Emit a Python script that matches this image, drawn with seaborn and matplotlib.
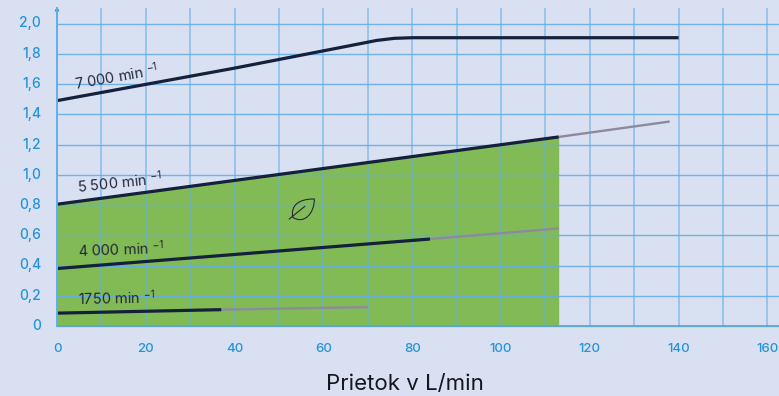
import matplotlib
matplotlib.use("Agg")
import matplotlib.pyplot as plt
import numpy as np
import pandas as pd
import seaborn as sns
from matplotlib.path import Path
from matplotlib.patches import PathPatch
from matplotlib.transforms import ScaledTranslation

BG = "#d8e0f1"; GRID = "#62aee6"; TICK = "#2493d8"; GREEN = "#82bb55"
DARK = "#14203c"; GRAY = "#8d8a9e"; TEXT = "#23283a"

sns.set_theme(style="white")
plt.rcParams["font.family"] = ["Inter", "DejaVu Sans"]
plt.rcParams["mathtext.default"] = "regular"

x_ticks = [0, 20, 40, 60, 80, 100, 120, 140, 160]
y_ticks = [0, .2, .4, .6, .8, 1.0, 1.2, 1.4, 1.6, 1.8, 2.0]
y_labels = ["0", "0,2", "0,4", "0,6", "0,8", "1,0", "1,2", "1,4", "1,6", "1,8", "2,0"]

q7000 = [0, 40, 68, 72, 76, 80, 140]
h7000 = [1.49, 1.705, 1.865, 1.888, 1.902, 1.906, 1.906]
q5500 = [0, 113]
h5500 = [.805, 1.25]
q5500_ext = [113, 138]
h5500_ext = [1.25, 1.352]
q4000 = [0, 84]
h4000 = [.38, .575]
q4000_ext = [84, 113]
h4000_ext = [.575, .645]
q1750 = [0, 37]
h1750 = [.085, .108]
q1750_ext = [37, 70]
h1750_ext = [.108, .125]
labels = ["7 000 min", "5 500 min", "4 000 min", "1750 min"]
label_q = [4.3, 4.7, 4.7, 4.7]
label_h = [1.56, .88, .456, .139]
label_rot = [10, 6, 2, 1]

W, H = 779, 396
fig = plt.figure(figsize=(W / 100, H / 100), dpi=100, facecolor=BG)
ax = fig.add_axes([57 / W, (H - 326) / H, (W - 57) / W, (326 - 8) / H], facecolor=BG)

# green operating area below the 5500 curve
qs = np.array(q5500, dtype=float)
ax.fill_between(qs, 0, h5500, color=GREEN, lw=0, zorder=1)

# grid
for v in np.arange(10, 170, 10):
    ax.axvline(v, color=GRID, lw=1.25, alpha=.6, zorder=2)
for v in y_ticks:
    ax.plot([0, 1], [v, v], transform=ax.get_yaxis_transform(), color=GRID, lw=1.0,
            alpha=.9, zorder=2, clip_on=False)

for q, h in [(q5500_ext, h5500_ext), (q4000_ext, h4000_ext), (q1750_ext, h1750_ext)]:
    sns.lineplot(x=q, y=h, ax=ax, color=GRAY, lw=1.7, zorder=3, solid_capstyle="butt", errorbar=None)
for q, h in [(q7000, h7000), (q5500, h5500), (q4000, h4000), (q1750, h1750)]:
    sns.lineplot(x=q, y=h, ax=ax, color=DARK, lw=2.3, zorder=4, solid_capstyle="butt",
                 errorbar=None, sort=False)

ax.set_xlim(0, (W - 57) / 4.44)
ax.set_ylim(0, (326 - 8) / 151.25)

ax.set_xticks(x_ticks)
ax.set_xticklabels([str(t) for t in x_ticks], color=TICK, fontsize=9.5, fontweight="medium")
ax.set_yticks(y_ticks)
ax.set_yticklabels(y_labels, color=TICK, fontsize=10, fontweight="medium")
ax.tick_params(axis="both", length=0)
ax.tick_params(axis="x", pad=12.5)
ax.tick_params(axis="y", pad=11.5)
shift_up = ScaledTranslation(0, 1.5 / 100, fig.dpi_scale_trans)
for t in ax.get_yticklabels():
    t.set_transform(t.get_transform() + shift_up)
for t in ax.get_xticklabels():
    t.set_clip_on(False)
for s in ["top", "right", "bottom"]:
    ax.spines[s].set_visible(False)
ax.spines["left"].set_color(GRID)
ax.spines["left"].set_linewidth(1.4)
ax.spines["left"].set_zorder(5)
ax.plot([0, 1], [0, 0], transform=ax.get_yaxis_transform(), color="#5aa7c8", lw=1.2, zorder=2,
        clip_on=False)
ax.annotate("", xy=(0, 1.005), xycoords="axes fraction", xytext=(0, .97),
            arrowprops=dict(arrowstyle="-|>", color=TICK, lw=0.8, mutation_scale=6, shrinkA=0, shrinkB=0))

for s, q, h, r in zip(labels, label_q, label_h, label_rot):
    ax.text(q, h, s + r" $^{-1}$", rotation=r, rotation_mode="anchor", fontsize=10.5, color=TEXT,
            ha="left", va="baseline", zorder=6)

# leaf icon, in data units
leaf = Path([(53.1, .719), (52.6, .80), (54.5, .84), (57.95, .84), (58.0, .74), (55.5, .67), (53.1, .719),
             (52.2, .705), (55.9, .793)],
            [Path.MOVETO, Path.CURVE4, Path.CURVE4, Path.CURVE4, Path.CURVE4, Path.CURVE4, Path.CURVE4,
             Path.MOVETO, Path.LINETO])
ax.add_patch(PathPatch(leaf, fc="none", ec=TEXT, lw=0.8, zorder=6))

fig.text(405 / W, 1 - 384 / H, "Prietok v L/min", ha="center", va="center", fontsize=16, color="#15171f")
fig.savefig("out.png", dpi=100, facecolor=BG)
